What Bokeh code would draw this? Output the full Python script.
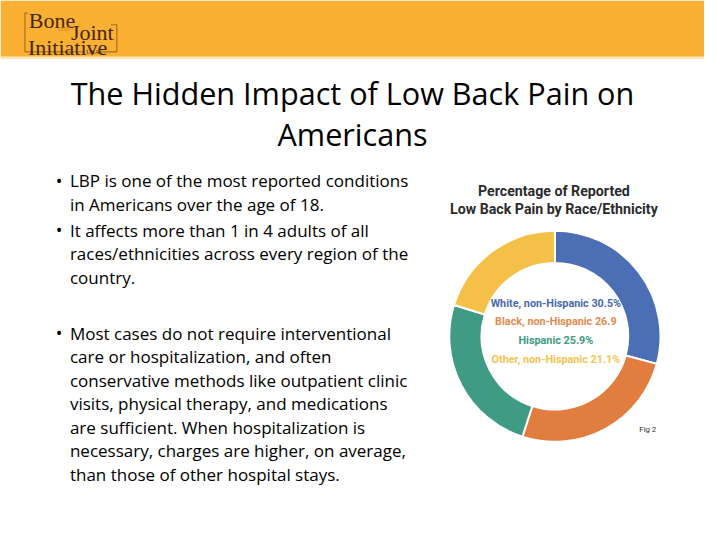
import numpy as np
from bokeh.plotting import figure
from bokeh.models import Range1d, ColumnDataSource
from bokeh.embed import file_html
from bokeh.resources import INLINE
from bokeh.core.properties import value

# ---------------- data ----------------
groups = ["White, non-Hispanic", "Black, non-Hispanic", "Hispanic", "Other, non-Hispanic"]
percents = [30.5, 26.9, 25.9, 21.1]
pct_labels = ["30.5%", "26.9", "25.9%", "21.1%"]
slice_colors = ["#4B6EB4", "#E07D3F", "#3F9B84", "#F4C048"]
label_colors = ["#4A6AAF", "#E48A4E", "#3F9A84", "#F2C552"]

title_lines = ["The Hidden Impact of Low Back Pain on", "Americans"]
chart_title = ["Percentage of Reported", "Low Back Pain by Race/Ethnicity"]
bullets = [
    ["LBP is one of the most reported conditions",
     "in Americans over the age of 18."],
    ["It affects more than 1 in 4 adults of all",
     "races/ethnicities across every region of the",
     "country."],
    ["Most cases do not require interventional",
     "care or hospitalization, and often",
     "conservative methods like outpatient clinic",
     "visits, physical therapy, and medications",
     "are sufficient. When hospitalization is",
     "necessary, charges are higher, on average,",
     "than those of other hospital stays."],
]
bullet_start_px = [186, 237, 343]

# ---------------- page ----------------
W, H = 720, 540
FW, FH = 704, 524
S = FW / W  # font scale


def Y(py):
    return H - py


def fs(px):
    return f"{px * S:.1f}px"


p = figure(width=FW, height=FH, output_backend="svg", toolbar_location=None,
           x_range=Range1d(0, W), y_range=Range1d(0, H),
           min_border=0, background_fill_color="white", border_fill_color="white")
p.axis.visible = False
p.grid.visible = False
p.outline_line_color = None

# header band
p.quad(left=0, right=W, top=Y(0), bottom=Y(58), color="#FBB034", line_color=None)
p.quad(left=0, right=W, top=Y(58), bottom=Y(60.5), color="#FDE7B8", line_color=None)

# logo
logo_brown = "#43290E"
frame_col = "#A8701E"
serif = value("Liberation Serif")
p.multi_line(xs=[[28, 25, 25, 86], [103, 119, 119, 113]],
             ys=[[Y(13), Y(13), Y(53), Y(53)], [Y(53), Y(53), Y(25), Y(25)]],
             line_color=frame_col, line_width=1.2)
p.text(x=[29], y=[Y(21)], text=["Bone"], text_font=serif,
       text_font_size=fs(22.5), text_color=logo_brown, text_baseline="alphabetic")
p.text(x=[72], y=[Y(33)], text=["Joint"], text_font=serif,
       text_font_size=fs(22.5), text_color=logo_brown, text_baseline="alphabetic")
p.text(x=[28], y=[Y(48)], text=["Initiative"], text_font=serif,
       text_font_size=fs(22.5), text_color=logo_brown, text_baseline="alphabetic")
p.text(x=[59], y=[Y(29)], text=["and"], text_font=serif,
       text_font_size=fs(8), text_font_style="italic", text_color="#D68A2A",
       text_baseline="alphabetic")
p.text(x=[94.5], y=[Y(53)], text=["USA"], text_font=serif,
       text_font_size=fs(7), text_color=logo_brown, text_align="center",
       text_baseline="middle")

# title
p.text(x=[360, 360], y=[Y(95), Y(138)], text=title_lines,
       text_font=value("Open Sans"), text_font_size=fs(31.3), text_color="#000000",
       text_align="center", text_baseline="middle")

# bullets
bx, by, tx, ty, tt = [], [], [], [], []
for start, lines in zip(bullet_start_px, bullets):
    bx.append(60)
    by.append(Y(start))
    for i, line in enumerate(lines):
        tx.append(71)
        ty.append(Y(start + 24.2 * i))
        tt.append(line)
p.text(x=bx, y=by, text=["\u2022"] * len(bx), text_font=value("Open Sans"),
       text_font_size=fs(18), text_color="#000000", text_align="center",
       text_baseline="middle")
p.text(x=tx, y=ty, text=tt, text_font=value("Open Sans"), text_font_size=fs(17.4),
       text_color="#000000", text_align="left", text_baseline="middle")

# chart title
p.text(x=[566, 566], y=[Y(196), Y(215)], text=chart_title,
       text_font=value("Roboto"), text_font_style="bold", text_font_size=fs(14.5),
       text_color="#2B2B2B", text_align="center", text_baseline="middle")

# donut
cx, cy = 567, Y(346)
vals = np.array(percents, dtype=float)
frac = vals / vals.sum()
cum_end = np.cumsum(frac)
cum_start = cum_end - frac
src = ColumnDataSource(dict(
    group=groups,
    start=np.pi / 2 - 2 * np.pi * cum_end,
    end=np.pi / 2 - 2 * np.pi * cum_start,
    color=slice_colors,
))
p.annular_wedge(x=cx, y=cy, inner_radius=75, outer_radius=108,
                start_angle="start", end_angle="end", fill_color="color",
                line_color="white", line_width=2, source=src)

# center labels
lab_text = [f"{g} {v}" for g, v in zip(groups, pct_labels)]
lab_y = [Y(312), Y(331), Y(350.5), Y(370)]
p.text(x=[568] * 4, y=lab_y, text=lab_text,
       text_font=value("Roboto"),
       text_font_style="bold", text_font_size=fs(11), text_color=label_colors,
       text_align="center", text_baseline="middle")

p.text(x=[662], y=[Y(442)], text=["Fig 2"], text_font=value("Roboto"),
       text_font_size=fs(8), text_color="#333333", text_align="center",
       text_baseline="middle")

open("out.html", "w").write(file_html(p, INLINE))
